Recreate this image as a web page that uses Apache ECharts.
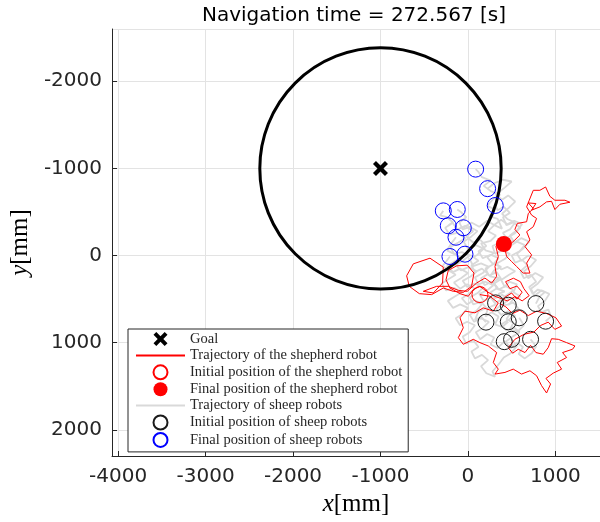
<!DOCTYPE html>
<html lang="en">
<head>
    <meta charset="UTF-8">
    <script src="https://cdn.jsdelivr.net/npm/echarts@6.0.0/dist/echarts.min.js"></script>
    <title>Navigation</title>
</head>
<body style="margin:0">
    <div id="chart" style="width: 600px;height:522px;"></div>
    <script>
        // goal and goal region (center x, center y, radius) in mm
        var goal = [[-1000, -1000]];
        var goalCircle = [[-1000, -1000, 1380]];

        // shepherd robot trajectory (x, y in mm)
        var shepherdX = [137, 251, 347, 290, 175, 80, -34, -91, -53, -110, -53, 61, 137, 232, 328, 290, 347, 309,
            423, 518, 613, 709, 785, 842, 899, 945, 892, 975, 1071, 1021, 1128, 1082, 1196, 1223, 1128, 1033, 956,
            918, 861, 777, 716, 652, 575, 511, 461, 537, 640, 754, 831, 918, 994, 1071, 1006, 899, 785, 690, 594,
            511, 434, 366,
            420, 500, 560, 620, 560, 480, 430, 520, 600, 640, 700, 620, 540, 450,
            309, 213, 137, 61, 4, -91, -206, -251, -225, -130, -8, 69, 42, -53, -168, -282, -415, -556, -671, -701,
            -625, -434, -282, -290, -396, -511, -358, -225, -110, -8, 99, 194, 271, 328, 309,
            347, 320, 366, 461, 537, 594, 537, 564, 671, 690, 747, 690, 777, 728, 823, 899, 956, 994, 1052, 1166,
            1109, 994, 937, 888, 823, 747, 701, 671, 728, 785, 747, 671, 709, 652, 728, 671, 709, 632, 556, 499,
            442, 411];
        var shepherdY = [448, 467, 543, 638, 600, 657, 638, 714, 828, 942, 1018, 961, 999, 1037, 1113, 1227, 1303, 1360,
            1341, 1303, 1360, 1322, 1379, 1493, 1577, 1474, 1410, 1349, 1303, 1227, 1170, 1113, 1075, 1037, 999, 961, 954,
            1056, 1132, 1113, 1030, 1113, 1075, 1121, 1056, 961, 904, 878, 802, 764, 847, 809, 714, 665, 638, 688, 627,
            665, 589, 551,
            480, 430, 500, 420, 350, 380, 300, 260, 300, 380, 460, 520, 470, 520,
            467, 410, 353, 391, 467, 437, 372, 277, 171, 118, 110, 201, 353, 422, 410, 372, 448, 437, 353, 232,
            95, 30, 133, 315, 429, 410, 353, 353, 399, 410, 315, 258, 315, 239, 125,
            11, -103, -179, -110, -179, -236, -300, -369, -388, -483, -540, -604, -597, -521, -559, -616, -623, -528, -589, -612,
            -635, -635, -680, -787, -749, -749, -635, -559, -464, -426, -331, -274, -179, -103, -8, 87, 201, 201, 125, 68,
            11, -133];
        var shepherdStart = [[137, 448]];
        var shepherdEnd = [[411, -133]];

        // sheep robots: initial and final positions
        var sheepStart = [[316, 543], [461, 570], [777, 551], [206, 764], [461, 760],
            [586, 714], [888, 753], [415, 988], [499, 961], [716, 961]];
        var sheepEnd = [[88, -992], [225, -768], [312, -575], [-282, -513], [-122, -529],
            [-225, -342], [-53, -319], [-137, -210], [-206, 11], [-34, -16]];

        // sheep trajectories, one list per robot
        var sheep1 = [[316, 543], [390, 500], [350, 440], [420, 410], [330, 380], [290, 300], [360, 260], [250, 240], [300, 170],
            [380, 130], [280, 90], [220, 20], [300, -30], [200, -60], [150, -140], [260, -170], [320, -230], [230, -280],
            [300, -350], [390, -310], [340, -420], [250, -450], [310, -530], [220, -570], [290, -650], [370, -700],
            [260, -740], [180, -800], [260, -860], [160, -900], [120, -960], [88, -992]];
        var sheep2 = [[461, 570], [520, 500], [600, 470], [520, 420], [560, 330], [470, 300], [420, 360], [380, 280], [470, 220],
            [540, 180], [450, 130], [380, 160], [330, 90], [420, 40], [480, -20], [390, -60], [310, -20], [280, -110],
            [370, -150], [450, -190], [400, -260], [480, -300], [540, -380], [450, -420], [390, -480], [470, -550],
            [540, -620], [460, -690], [390, -640], [320, -700], [420, -780], [500, -850], [400, -870], [300, -830], [225, -768]];
        var sheep3 = [[777, 551], [820, 470], [880, 420], [800, 390], [740, 440], [700, 360], [780, 300], [720, 220], [640, 260],
            [600, 180], [680, 110], [620, 50], [540, 80], [500, 0], [590, -50], [650, -120], [560, -160], [480, -110],
            [440, -200], [530, -250], [600, -320], [520, -380], [440, -350], [400, -440], [480, -490], [410, -560],
            [340, -520], [312, -575]];
        var sheep4 = [[206, 764], [150, 700], [80, 740], [120, 640], [210, 600], [150, 530], [60, 560], [20, 480], [110, 430],
            [170, 370], [80, 320], [-10, 360], [-60, 290], [30, 240], [100, 180], [10, 130], [-80, 170], [-140, 110],
            [-60, 60], [20, 0], [-70, -40], [-160, -20], [-200, -100], [-110, -150], [-30, -200], [-120, -260],
            [-210, -240], [-260, -320], [-170, -380], [-240, -440], [-320, -460], [-282, -513]];
        var sheep5 = [[461, 760], [390, 820], [310, 790], [350, 700], [270, 650], [200, 700], [230, 600], [320, 560], [260, 480],
            [180, 520], [130, 440], [220, 400], [290, 340], [200, 300], [120, 330], [80, 250], [170, 200], [240, 130],
            [150, 90], [60, 120], [20, 40], [110, -10], [180, -80], [90, -120], [0, -80], [-50, -160], [40, -220],
            [110, -280], [20, -330], [-60, -300], [-100, -380], [-20, -440], [-80, -500], [-122, -529]];
        var sheep6 = [[586, 714], [640, 800], [570, 870], [480, 850], [520, 770], [440, 730], [490, 650], [580, 610], [520, 540],
            [430, 570], [370, 500], [450, 450], [520, 400], [430, 350], [350, 390], [300, 320], [380, 270], [330, 190],
            [240, 230], [200, 150], [290, 100], [350, 30], [260, -10], [170, 30], [120, -50], [210, -110], [140, -180],
            [60, -150], [-20, -220], [60, -280], [-30, -340], [-120, -300], [-180, -380], [-225, -342]];
        var sheep7 = [[888, 753], [950, 700], [920, 620], [840, 650], [800, 580], [880, 520], [930, 440], [840, 400], [760, 460],
            [720, 380], [800, 320], [860, 250], [770, 200], [690, 260], [640, 180], [720, 120], [780, 50], [690, 0],
            [610, 60], [560, -20], [640, -90], [700, -160], [610, -200], [530, -150], [480, -230], [560, -290],
            [620, -360], [530, -400], [450, -360], [380, -410], [300, -350], [220, -400], [130, -330], [40, -380], [-53, -319]];
        var sheep8 = [[415, 988], [340, 1060], [260, 1020], [300, 940], [220, 900], [140, 960], [90, 880], [170, 830], [240, 760],
            [150, 720], [70, 760], [20, 680], [100, 630], [160, 560], [70, 510], [-10, 560], [-70, 490], [10, 440], [80, 380],
            [-10, 330], [-90, 380], [-160, 310], [-80, 260], [0, 200], [-90, 150], [-170, 190], [-240, 120], [-160, 70],
            [-80, 30], [-160, -20], [-240, -60], [-190, -140], [-137, -210]];
        var sheep9 = [[499, 961], [560, 1040], [490, 1120], [410, 1170], [350, 1250], [280, 1330], [310, 1390], [210, 1350],
            [150, 1270], [230, 1200], [160, 1140], [80, 1180], [40, 1100], [120, 1050], [60, 970], [-20, 1010], [-60, 930],
            [20, 880], [80, 800], [-10, 760], [-90, 800], [-140, 720], [-60, 670], [0, 600], [-90, 560], [-170, 600],
            [-230, 520], [-150, 470], [-70, 420], [-160, 370], [-250, 400], [-300, 320], [-220, 270], [-140, 220],
            [-220, 170], [-290, 120], [-206, 11]];
        var sheep10 = [[716, 961], [780, 1040], [730, 1120], [650, 1180], [580, 1130], [630, 1050], [560, 1000], [490, 1060],
            [430, 990], [510, 930], [590, 880], [520, 820], [440, 860], [380, 790], [460, 740], [540, 690], [460, 640],
            [380, 680], [320, 610], [400, 560], [470, 500], [390, 450], [310, 490], [260, 420], [340, 370], [270, 300],
            [190, 340], [150, 260], [230, 210], [160, 150], [80, 190], [40, 110], [120, 60], [40, 0], [-34, -16]];
        var sheepPaths = [sheep1, sheep2, sheep3, sheep4, sheep5, sheep6, sheep7, sheep8, sheep9, sheep10];

        var legendNames = ['Goal', 'Trajectory of the shepherd robot', 'Initial position of the shepherd robot',
            'Final position of the shepherd robot', 'Trajectory of sheep robots',
            'Initial position of sheep robots', 'Final position of sheep robots'];

        var chart = echarts.init(document.getElementById('chart'));

        var shepherdPath = [];
        for (var i = 0; i < shepherdX.length; i++) {
            shepherdPath.push([shepherdX[i], shepherdY[i]]);
        }

        var axisColor = '#262626';
        var sheepGray = '#d9d9d9';
        var series = [];
        // sheep trajectories go underneath everything
        for (var k = 0; k < sheepPaths.length; k++) {
            series.push({
                name: legendNames[4],
                type: 'line',
                data: sheepPaths[k],
                symbol: 'none',
                lineStyle: { color: sheepGray, width: 1.8 },
                itemStyle: { color: sheepGray },
                z: 1
            });
        }
        series.push({
            name: legendNames[1],
            type: 'line',
            data: shepherdPath,
            symbol: 'none',
            lineStyle: { color: '#ff0000', width: 1 },
            itemStyle: { color: '#ff0000' },
            z: 2
        });
        series.push({
            type: 'custom',
            data: goalCircle,
            renderItem: function (params, api) {
                var c = api.coord([api.value(0), api.value(1)]);
                var s = api.size([api.value(2), api.value(2)]);
                return {
                    type: 'circle',
                    shape: { cx: c[0], cy: c[1], r: s[0] },
                    style: { fill: 'none', stroke: '#000', lineWidth: 3 }
                };
            },
            z: 3
        });
        series.push({
            name: legendNames[0],
            type: 'scatter',
            data: goal,
            symbol: 'path://M2,0 L5,3 L8,0 L10,2 L7,5 L10,8 L8,10 L5,7 L2,10 L0,8 L3,5 L0,2 Z',
            symbolSize: 15,
            itemStyle: { color: '#000', opacity: 1 },
            z: 4
        });
        series.push({
            name: legendNames[2],
            type: 'scatter',
            data: shepherdStart,
            symbol: 'circle',
            symbolSize: 16,
            itemStyle: { color: 'rgba(0,0,0,0)', borderColor: '#ff0000', borderWidth: 1, opacity: 1 },
            z: 4
        });
        series.push({
            name: legendNames[3],
            type: 'scatter',
            data: shepherdEnd,
            symbol: 'circle',
            symbolSize: 16,
            itemStyle: { color: '#ff0000', opacity: 1 },
            z: 4
        });
        series.push({
            name: legendNames[5],
            type: 'scatter',
            data: sheepStart,
            symbol: 'circle',
            symbolSize: 16,
            itemStyle: { color: 'rgba(0,0,0,0)', borderColor: '#1a1a1a', borderWidth: 1, opacity: 1 },
            z: 4
        });
        series.push({
            name: legendNames[6],
            type: 'scatter',
            data: sheepEnd,
            symbol: 'circle',
            symbolSize: 16,
            itemStyle: { color: 'rgba(0,0,0,0)', borderColor: '#0000ff', borderWidth: 1, opacity: 1 },
            z: 4
        });

        // line entries show only the line in the legend
        var legendData = legendNames.map(function (n, idx) {
            if (idx === 1 || idx === 4) {
                return { name: n, itemStyle: { opacity: 0 } };
            }
            return { name: n };
        });

        var option = {
            animation: false,
            title: {
                text: 'Navigation time = 272.567 [s]',
                left: 202,
                top: 6,
                padding: 0,
                textStyle: { fontFamily: 'DejaVu Sans', fontSize: 20, fontWeight: 'normal', color: '#000' }
            },
            legend: {
                data: legendData,
                orient: 'vertical',
                left: 128,
                top: 329,
                padding: [2.5, 6, 4, 7],
                itemWidth: 49,
                itemHeight: 14,
                itemGap: 1.4,
                backgroundColor: '#fff',
                borderColor: axisColor,
                borderWidth: 1,
                selectedMode: false,
                textStyle: { fontFamily: 'Liberation Serif', fontSize: 14.5, color: '#262626', lineHeight: 15 }
            },
            grid: { left: 112, right: 0, top: 29, bottom: 65 },
            xAxis: {
                type: 'value',
                min: -4070,
                max: 1510,
                name: '{i|x}[mm]',
                nameLocation: 'middle',
                nameGap: 36,
                nameTextStyle: {
                    fontFamily: 'Liberation Serif', fontSize: 25, color: '#000',
                    rich: { i: { fontFamily: 'Liberation Serif', fontSize: 25, fontStyle: 'italic', color: '#000' } }
                },
                axisLine: { show: true, onZero: false, lineStyle: { color: axisColor, width: 1 } },
                axisTick: { show: true, inside: true, length: 5, lineStyle: { color: axisColor } },
                axisLabel: {
                    fontFamily: 'DejaVu Sans', fontSize: 20, color: axisColor, margin: 11,
                    showMinLabel: false, showMaxLabel: false,
                    formatter: function (v) { return String(v); }
                },
                splitLine: { show: true, lineStyle: { color: '#e3e3e3', width: 1 } }
            },
            yAxis: {
                type: 'value',
                inverse: true,
                min: -2600,
                max: 2300,
                name: '{i|y}[mm]',
                nameLocation: 'middle',
                nameGap: 76,
                nameTextStyle: {
                    fontFamily: 'Liberation Serif', fontSize: 25, color: '#000',
                    rich: { i: { fontFamily: 'Liberation Serif', fontSize: 25, fontStyle: 'italic', color: '#000' } }
                },
                axisLine: { show: true, onZero: false, lineStyle: { color: axisColor, width: 1 } },
                axisTick: { show: true, inside: true, length: 5, lineStyle: { color: axisColor } },
                axisLabel: {
                    fontFamily: 'DejaVu Sans', fontSize: 20, color: axisColor, margin: 10,
                    showMinLabel: false, showMaxLabel: false,
                    formatter: function (v) { return String(v); }
                },
                splitLine: { show: true, lineStyle: { color: '#e3e3e3', width: 1 } }
            },
            series: series
        };

        chart.setOption(option);
    </script>
</body>
</html>
